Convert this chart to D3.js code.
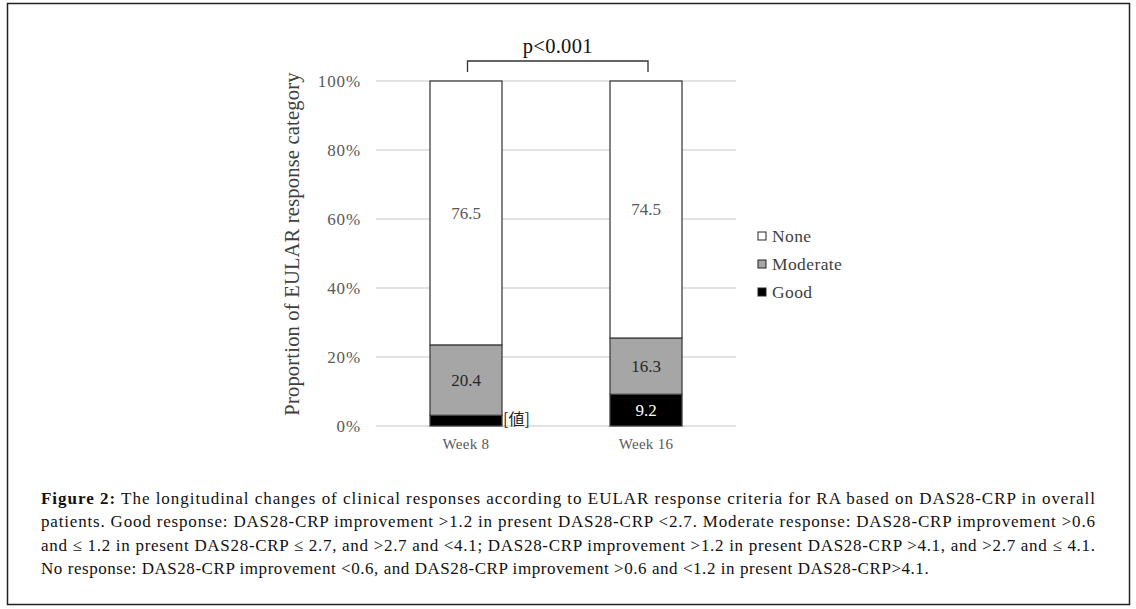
<!DOCTYPE html>
<html><head><meta charset="utf-8">
<script src="https://cdn.jsdelivr.net/npm/d3@7"></script>
<style>body{margin:0;background:#fff}svg{display:block}</style>
</head><body>
<svg id="c" width="1136" height="609"></svg>
<script>
const categories = ["Week 8", "Week 16"];
const seriesNames = ["Good", "Moderate", "None"];
const good = [3.1, 9.2];
const moderate = [20.4, 16.3];
const none = [76.5, 74.5];
const goodLabels = ["[値]", "9.2"];
const moderateLabels = ["20.4", "16.3"];
const noneLabels = ["76.5", "74.5"];
const yTicks = [0, 20, 40, 60, 80, 100];
const legendOrder = ["None", "Moderate", "Good"];
const pText = "p<0.001";
const yTitle = "Proportion of EULAR response category";
const captionLines = [
  ["Figure 2:", " The longitudinal changes of clinical responses according to EULAR response criteria for RA based on DAS28-CRP in overall"],
  ["", "patients. Good response: DAS28-CRP improvement >1.2 in present DAS28-CRP <2.7. Moderate response: DAS28-CRP improvement >0.6"],
  ["", "and \u2264 1.2 in present DAS28-CRP \u2264 2.7, and >2.7 and <4.1; DAS28-CRP improvement >1.2 in present DAS28-CRP >4.1, and >2.7 and \u2264 4.1."],
  ["", "No response: DAS28-CRP improvement <0.6, and DAS28-CRP improvement >0.6 and <1.2 in present DAS28-CRP>4.1."]
];

(function () {
const svg = d3.select("#c");
const serif = "'Liberation Serif','Times New Roman',serif";
const colors = {Good: "#000000", Moderate: "#a6a6a6", None: "#ffffff"};

// frame
svg.append("rect").attr("x", 7.5).attr("y", 3.5).attr("width", 1122).attr("height", 601)
  .attr("fill", "none").attr("stroke", "#222").attr("stroke-width", 1.5);

const pL = 376, pR = 736, pT = 81, pB = 426;
const x = d3.scaleBand().domain(categories).range([pL, pR]).paddingInner(0.6).paddingOuter(0.3);
const y = d3.scaleLinear().domain([0, 100]).range([pB, pT]);

// gridlines
svg.append("g").selectAll("line").data(yTicks).join("line")
  .attr("x1", pL).attr("x2", pR)
  .attr("y1", d => y(d)).attr("y2", d => y(d))
  .attr("stroke", "#d9d9d9").attr("stroke-width", 1.3);

// y axis
const yAxis = d3.axisLeft(y).tickValues(yTicks).tickFormat(d => d + "%").tickSize(0).tickPadding(15);
const gy = svg.append("g").attr("transform", `translate(${pL},0)`).call(yAxis);
gy.select(".domain").remove();
gy.selectAll("text").attr("font-family", serif).attr("font-size", 17).attr("letter-spacing", 0.9).attr("fill", "#595959");

// x axis
const xAxis = d3.axisBottom(x).tickSize(0).tickPadding(12);
const gx = svg.append("g").attr("transform", `translate(0,${pB})`).call(xAxis);
gx.select(".domain").remove();
gx.selectAll("text").attr("font-family", serif).attr("font-size", 15).attr("letter-spacing", 0.3).attr("fill", "#595959");

// stack
const rows = categories.map((c, i) => ({cat: c, Good: good[i], Moderate: moderate[i], None: none[i]}));
const stack = d3.stack().keys(seriesNames)(rows);
const labelsBy = {Good: goodLabels, Moderate: moderateLabels, None: noneLabels};
const labelColor = {Good: "#ffffff", Moderate: "#262626", None: "#595959"};

stack.forEach(s => {
  svg.append("g").selectAll("rect").data(s).join("rect")
    .attr("x", d => x(d.data.cat)).attr("width", x.bandwidth())
    .attr("y", d => y(d[1])).attr("height", d => y(d[0]) - y(d[1]))
    .attr("fill", colors[s.key]).attr("stroke", "#404040").attr("stroke-width", 1.3);
});
const isOut = (k, i) => k === "Good" && i === 0;
stack.forEach(s => {
  svg.append("g").selectAll("text").data(s).join("text")
    .attr("x", (d, i) => isOut(s.key, i) ? x(d.data.cat) + x.bandwidth() + 1 : x(d.data.cat) + x.bandwidth() / 2)
    .attr("y", (d, i) => isOut(s.key, i) ? y(d[0]) - 1 : (y(d[0]) + y(d[1])) / 2)
    .attr("dy", (d, i) => isOut(s.key, i) ? 0 : "0.35em")
    .attr("text-anchor", (d, i) => isOut(s.key, i) ? "start" : "middle")
    .attr("font-family", (d, i) => isOut(s.key, i) ? "'Noto Sans CJK JP',sans-serif" : serif)
    .attr("font-size", (d, i) => isOut(s.key, i) ? 16 : 17)
    .attr("fill", (d, i) => isOut(s.key, i) ? "#262626" : labelColor[s.key])
    .text((d, i) => labelsBy[s.key][i]);
});

// p-value bracket
const bx1 = x(categories[0]) + x.bandwidth() / 2 + 1.5, bx2 = x(categories[1]) + x.bandwidth() / 2 + 2;
svg.append("path").attr("d", `M${bx1},72V61H${bx2}V72`).attr("fill", "none").attr("stroke", "#333").attr("stroke-width", 1.3);
svg.append("text").attr("x", (bx1 + bx2) / 2).attr("y", 53).attr("text-anchor", "middle")
  .attr("font-family", serif).attr("font-size", 20.5).attr("letter-spacing", 0.3).attr("fill", "#111").text(pText);

// y title
svg.append("text").attr("transform", `translate(299,244) rotate(-90)`)
  .attr("text-anchor", "middle").attr("font-family", serif).attr("font-size", 20.5).attr("letter-spacing", 0.2).attr("fill", "#404040").text(yTitle);

// legend
const lg = svg.append("g").selectAll("g").data(legendOrder).join("g")
  .attr("transform", (d, i) => `translate(758,${236 + i * 28})`);
lg.append("rect").attr("x", 0).attr("y", -4).attr("width", 8).attr("height", 8)
  .attr("fill", d => colors[d]).attr("stroke", "#222").attr("stroke-width", 1);
lg.append("text").attr("x", 14).attr("dy", "0.35em").attr("font-family", serif).attr("font-size", 17.5)
  .attr("letter-spacing", 0.4).attr("fill", "#404040").text(d => d);

// caption
const capX = 41, capW = 1054;
captionLines.forEach((ln, i) => {
  const t = svg.append("text").attr("x", capX).attr("y", 504 + i * 23.3)
    .attr("font-family", serif).attr("font-size", 17).attr("fill", "#111");
  if (i < 3) t.attr("textLength", capW).attr("lengthAdjust", "spacing");
  else t.attr("letter-spacing", 0.55);
  if (ln[0]) t.append("tspan").attr("font-weight", "bold").text(ln[0]);
  t.append("tspan").text(ln[1]);
});
})();
</script>
</body></html>
